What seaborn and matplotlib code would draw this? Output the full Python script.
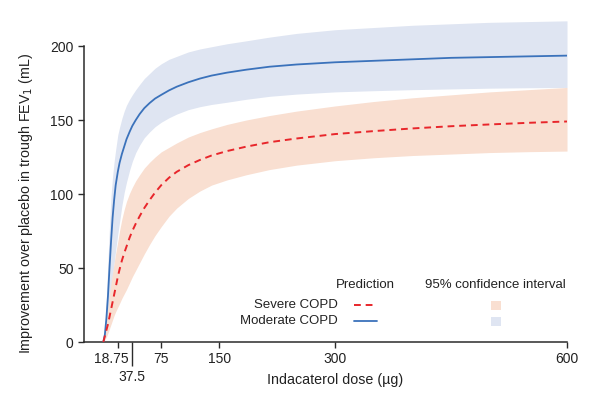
import numpy as np
import pandas as pd
import matplotlib
matplotlib.use("Agg")
import matplotlib.pyplot as plt
import matplotlib.transforms as mtransforms
from matplotlib.lines import Line2D
from matplotlib.patches import Rectangle
import seaborn as sns

# ---- data ----
dose = [0, 2, 4, 6, 8, 10, 12, 14, 16, 18.75, 21, 24, 27, 30, 34, 37.5, 42, 47,
        53, 60, 67, 75, 85, 95, 110, 125, 140, 160, 185, 215, 250, 300, 350,
        400, 450, 500, 550, 600]

moderate_pred = [0, 5, 16, 31, 50, 68, 84, 96, 106, 115, 121, 127, 132, 137,
                 142, 146, 150, 154, 158, 161.5, 164.5, 167, 170, 172.5, 175.5, 178,
                 180, 182, 184, 186, 187.5, 189, 190, 191, 192, 192.5, 193, 193.5]
moderate_upper = [0, 8, 30, 55, 78, 99, 112, 122, 130, 140, 145, 151, 156, 160,
                  164, 167, 170.5, 174, 178, 181.5, 185, 188, 191, 193, 196, 198,
                  199.5, 201.5, 203.5, 206, 208.5, 211, 212.5, 214, 215, 216,
                  216.5, 217]
moderate_lower = [0, 3, 10, 18, 27, 36, 45, 53, 62, 73, 81, 92, 101, 108, 116,
                  122, 128, 133, 138, 142, 145.5, 148.5, 151.5, 154, 157, 159,
                  160.5, 162, 164, 166, 167.5, 169, 169.8, 170.5, 171, 171.5,
                  171.8, 172]

severe_pred = [0, 4, 8, 12, 17, 22, 27, 32, 37, 44, 49, 55, 60, 64.5, 70.5, 75,
               80, 85, 90.5, 96, 101, 106, 111, 115, 119.5, 123, 126, 129, 132,
               135, 137.5, 140.5, 142.5, 144.3, 145.8, 147, 148.1, 149]
severe_upper = [0, 7, 15, 24, 32, 40, 47, 53.5, 60, 68, 75, 83, 89.5, 95, 100.5,
                104.5, 109, 113, 117.5, 121.5, 125, 128.5, 131.5, 134.5, 138.5,
                141.5, 144, 147, 150, 153, 156, 159.5, 162.5, 165, 167, 169,
                170.5, 172]
severe_lower = [0, 1.5, 3.5, 6, 9, 12, 15, 18, 20.5, 23.5, 26, 29.5, 32.5, 35.5,
                40, 44, 48.5, 53.5, 59.5, 66, 72, 78, 85, 90.5, 97, 102, 106,
                109.5, 113, 116.5, 119.5, 122.5, 124.5, 126, 127, 128, 128.6, 129]

xticks = [18.75, 75, 150, 300, 600]
xtick_labels = ["18.75", "75", "150", "300", "600"]
xtick_minor = [37.5]
xtick_minor_labels = ["37.5"]
yticks = [0, 50, 100, 150, 200]

groups = ["Severe COPD", "Moderate COPD"]

# ---- styling ----
sns.set_style("white")
plt.rcParams["font.family"] = ["Liberation Sans", "DejaVu Sans"]

C_RED = "#e8262b"
C_BLUE = "#3b72bb"
C_RED_BAND = "#f9dfd1"
C_BLUE_BAND = "#dfe5f2"
C_AX = "#2b2b2b"
C_TXT = "#222222"

df = pd.concat([
    pd.DataFrame({"dose": dose, "pred": severe_pred, "lo": severe_lower,
                  "hi": severe_upper, "group": groups[0]}),
    pd.DataFrame({"dose": dose, "pred": moderate_pred, "lo": moderate_lower,
                  "hi": moderate_upper, "group": groups[1]}),
])

fig = plt.figure(figsize=(6, 4.08), dpi=100)
ax = fig.add_axes([84 / 600, 1 - 342 / 408, (567 - 84) / 600, (342 - 16.4) / 408])

sub_s = df[df.group == groups[0]]
sub_m = df[df.group == groups[1]]
ax.fill_between(sub_m.dose, sub_m.lo, sub_m.hi, color=C_BLUE_BAND, lw=0, zorder=1)
ax.fill_between(sub_s.dose, sub_s.lo, sub_s.hi, color=C_RED_BAND, lw=0, zorder=1)

sns.lineplot(data=sub_m, x="dose", y="pred", color=C_BLUE, lw=1.3, ax=ax,
             legend=False, zorder=3)
sns.lineplot(data=sub_s, x="dose", y="pred", color=C_RED, lw=1.4, ax=ax,
             legend=False, zorder=3, linestyle=(0, (3.5, 2.5)))

ax.set_xlim(-25, 600)
ax.set_ylim(0, 220)

for s in ["top", "right"]:
    ax.spines[s].set_visible(False)
for s in ["left", "bottom"]:
    ax.spines[s].set_color(C_AX)
    ax.spines[s].set_linewidth(1.1)
ax.spines["left"].set_bounds(0, 200)

ax.set_yticks(yticks)
ax.set_yticklabels([str(v) for v in yticks])
ax.set_xticks(xticks)
ax.set_xticklabels(xtick_labels)
ax.set_xticks(xtick_minor, minor=True)
ax.set_xticklabels(xtick_minor_labels, minor=True)

ax.tick_params(axis="both", which="major", direction="out", length=4.5, width=1.0,
               color=C_AX, labelcolor=C_TXT, labelsize=10, pad=3,
               bottom=True, left=True)
ax.tick_params(axis="x", which="minor", direction="out", length=17.5, width=1.0,
               color=C_AX, labelcolor=C_TXT, labelsize=10, pad=2.5, bottom=True)

# shift the 18.75 label slightly left as in the reference
for lab in ax.get_xticklabels():
    if lab.get_text() == "18.75":
        lab.set_transform(lab.get_transform() +
                          mtransforms.ScaledTranslation(-6.5 / 100, 0, fig.dpi_scale_trans))

ax.set_xlabel("Indacaterol dose (µg)", fontsize=10.3, color=C_TXT)
ax.set_ylabel("Improvement over placebo in trough FEV$_1$ (mL)", fontsize=10.3,
              color=C_TXT)
ax.xaxis.set_label_coords((335 - 84) / 483, -0.094)
ax.yaxis.set_label_coords((35 - 84) / 483, (342 - 203) / 325.6)

# ---- custom legend (figure pixel coords) ----
def fx(px):
    return px / 600

def fy(py):
    return 1 - py / 408

tkw = dict(fontsize=9.5, color=C_TXT, va="center")
fig.text(fx(365), fy(285), "Prediction", ha="center", **tkw)
fig.text(fx(495), fy(285), "95% confidence interval", ha="center", **tkw)
fig.text(fx(338), fy(305), groups[0], ha="right", **tkw)
fig.text(fx(338), fy(321), groups[1], ha="right", **tkw)

fig.add_artist(Line2D([fx(354), fx(377)], [fy(305.3), fy(305.3)], color=C_RED,
                      lw=1.4, linestyle=(0, (3.5, 2.5)), transform=fig.transFigure))
fig.add_artist(Line2D([fx(354), fx(377)], [fy(320.7), fy(320.7)], color=C_BLUE,
                      lw=1.3, transform=fig.transFigure))
fig.add_artist(Rectangle((fx(491), fy(310)), 9.5 / 600, 9.5 / 408, color=C_RED_BAND,
                         lw=0, transform=fig.transFigure))
fig.add_artist(Rectangle((fx(491), fy(326)), 9.5 / 600, 9.5 / 408, color=C_BLUE_BAND,
                         lw=0, transform=fig.transFigure))

fig.savefig("out.png", dpi=100)
